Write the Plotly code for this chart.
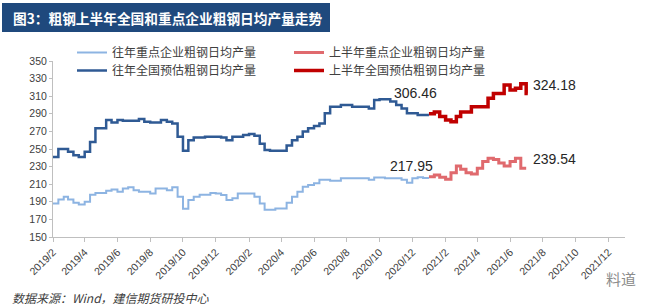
import plotly.graph_objects as go
import pandas as pd

def dekads(start, end):
    out = []
    for m in pd.date_range(start, end, freq="MS"):
        for d in (1, 11, 21):
            out.append(m + pd.Timedelta(days=d - 1))
    return out

past_x = dekads("2019-02-01", "2020-12-01") + [pd.Timestamp("2021-01-01")]
cur_x = dekads("2021-01-01", "2021-06-01") + [pd.Timestamp("2021-07-01"), pd.Timestamp("2021-07-04")]

past_key = [188, 192.7, 195.7, 192.7, 189, 187, 190, 198, 200, 200, 202.6, 204,
            201.4, 205, 206.4, 203, 201.4, 201.4, 199.5, 205, 205, 203, 206.4, 195.7,
            182, 192, 195.7, 198, 198, 200, 199.5, 197.6, 192, 194, 199.5, 199.5,
            199.5, 195.7, 188, 181, 181, 182.4, 182.4, 189, 195.7, 201.4, 207, 209,
            211, 215, 215, 214, 214, 216.7, 216.7, 216.7, 216.7, 216.7, 215, 217.5,
            217.5, 216.7, 216.7, 216.7, 215, 211.7, 216.7, 217.95, 217, 217]
past_nat = [241, 250, 250, 247, 243, 241, 247, 258, 273.5, 273.5, 283, 280,
            283, 282, 282, 282, 284, 281, 280, 280, 283, 281, 279, 264,
            248, 260, 263, 263, 264, 264, 264, 263, 260, 264, 264, 266,
            267, 265, 256, 249, 248, 248, 248, 254, 260, 264, 270, 273.5,
            276, 279, 290.5, 298, 298, 300, 300, 298, 298, 298, 296, 305.7,
            306.46, 306.46, 304, 300, 296, 290.5, 290.5, 288.6, 288.6, 288.6]
cur_key = [218.6, 220.5, 218, 215.5, 223, 230.7, 227, 223, 221.6, 228, 235.7, 239.54,
           238, 234, 230.7, 235.7, 239.54, 228, 228]
cur_nat = [290, 292, 287, 283, 281, 287, 292, 292, 298, 298, 298, 307.6,
           313, 313, 322.7, 317, 319, 324.18, 313, 313]

y_ticks = [150, 170, 190, 210, 230, 250, 270, 290, 310, 330, 350]
x_ticks = pd.date_range("2019-02-01", "2021-12-01", freq="2MS")
x_labels = [f"{d.year}/{d.month}" for d in x_ticks]

names = ["往年重点企业粗钢日均产量", "上半年重点企业粗钢日均产量",
         "往年全国预估粗钢日均产量", "上半年全国预估粗钢日均产量"]

W, H, L, T = 572, 176, 53, 61
def px(x): return (x - L) / W
def py(y): return (T + H - y) / H

fig = go.Figure()
fig.add_trace(go.Scatter(x=past_x, y=past_key, name=names[0], mode="lines", legend="legend",
                         line=dict(color="#8DB4E2", width=2, shape="hv")))
fig.add_trace(go.Scatter(x=cur_x, y=cur_key, name=names[1], mode="lines", legend="legend",
                         line=dict(color="#E06A6E", width=3, shape="hv")))
fig.add_trace(go.Scatter(x=past_x, y=past_nat, name=names[2], mode="lines", legend="legend2",
                         line=dict(color="#2F5A94", width=2.5, shape="hv")))
fig.add_trace(go.Scatter(x=cur_x, y=cur_nat, name=names[3], mode="lines", legend="legend2",
                         line=dict(color="#C00000", width=3.5, shape="hv")))

lab_font = dict(family="Liberation Sans, Arial", size=14, color="#262626")
for txt, x, y in [("306.46", "2020-12-07", 313.6), ("217.95", "2020-11-30", 230.7),
                  ("324.18", "2021-08-22", 322.7), ("239.54", "2021-08-22", 238.6)]:
    fig.add_annotation(x=x, y=y, text=txt, showarrow=False, font=lab_font,
                       xanchor="center", yanchor="middle")

fig.add_shape(type="rect", xref="paper", yref="paper", x0=px(2), x1=px(330),
              y0=py(32), y1=py(3), fillcolor="#1F497D", line_width=0, layer="above")
fig.add_annotation(xref="paper", yref="paper", x=px(11), y=py(17.5),
                   text="<b>图3：粗钢上半年全国和重点企业粗钢日均产量走势</b>",
                   showarrow=False, xanchor="left", yanchor="middle",
                   font=dict(family="Noto Sans CJK SC", size=13.7, color="white"))
fig.add_annotation(xref="paper", yref="paper", x=px(10), y=py(297),
                   text="<i>数据来源：Wind，建信期货研投中心</i>",
                   showarrow=False, xanchor="left", yanchor="middle",
                   font=dict(family="Noto Sans CJK SC", size=12, color="#404040"))
fig.add_annotation(xref="paper", yref="paper", x=px(638), y=py(278),
                   text="料道", showarrow=False, xanchor="right", yanchor="middle",
                   font=dict(family="Noto Sans CJK SC", size=15, color="#8C8C8C"))

leg_common = dict(orientation="h", xanchor="left", yanchor="top",
                  entrywidth=172, entrywidthmode="pixels", tracegroupgap=0,
                  font=dict(family="Noto Sans CJK SC", size=12, color="#404040"),
                  bgcolor="rgba(0,0,0,0)")

fig.update_layout(
    width=659, height=305,
    margin=dict(l=L, r=659 - L - W, t=T, b=305 - T - H),
    paper_bgcolor="white", plot_bgcolor="white",
    showlegend=True,
    legend=dict(x=px(72), y=py(38), **leg_common),
    legend2=dict(x=px(72), y=py(56), **leg_common),
    xaxis=dict(type="date", range=["2019-02-01", "2022-01-01"],
               tickmode="array", tickvals=x_ticks, ticktext=x_labels,
               tickangle=-45, ticks="outside", ticklen=4, tickcolor="#BFBFBF",
               showline=True, linecolor="#BFBFBF", linewidth=1, showgrid=False,
               zeroline=False,
               tickfont=dict(family="Liberation Sans, Arial", size=10.5, color="#404040")),
    yaxis=dict(range=[150, 350], tickmode="array", tickvals=y_ticks,
               ticks="outside", ticklen=3, tickcolor="#BFBFBF",
               showline=True, linecolor="#BFBFBF", linewidth=1, showgrid=False,
               zeroline=False,
               tickfont=dict(family="Liberation Sans, Arial", size=10.5, color="#404040")),
)

fig.write_html("out.html")
